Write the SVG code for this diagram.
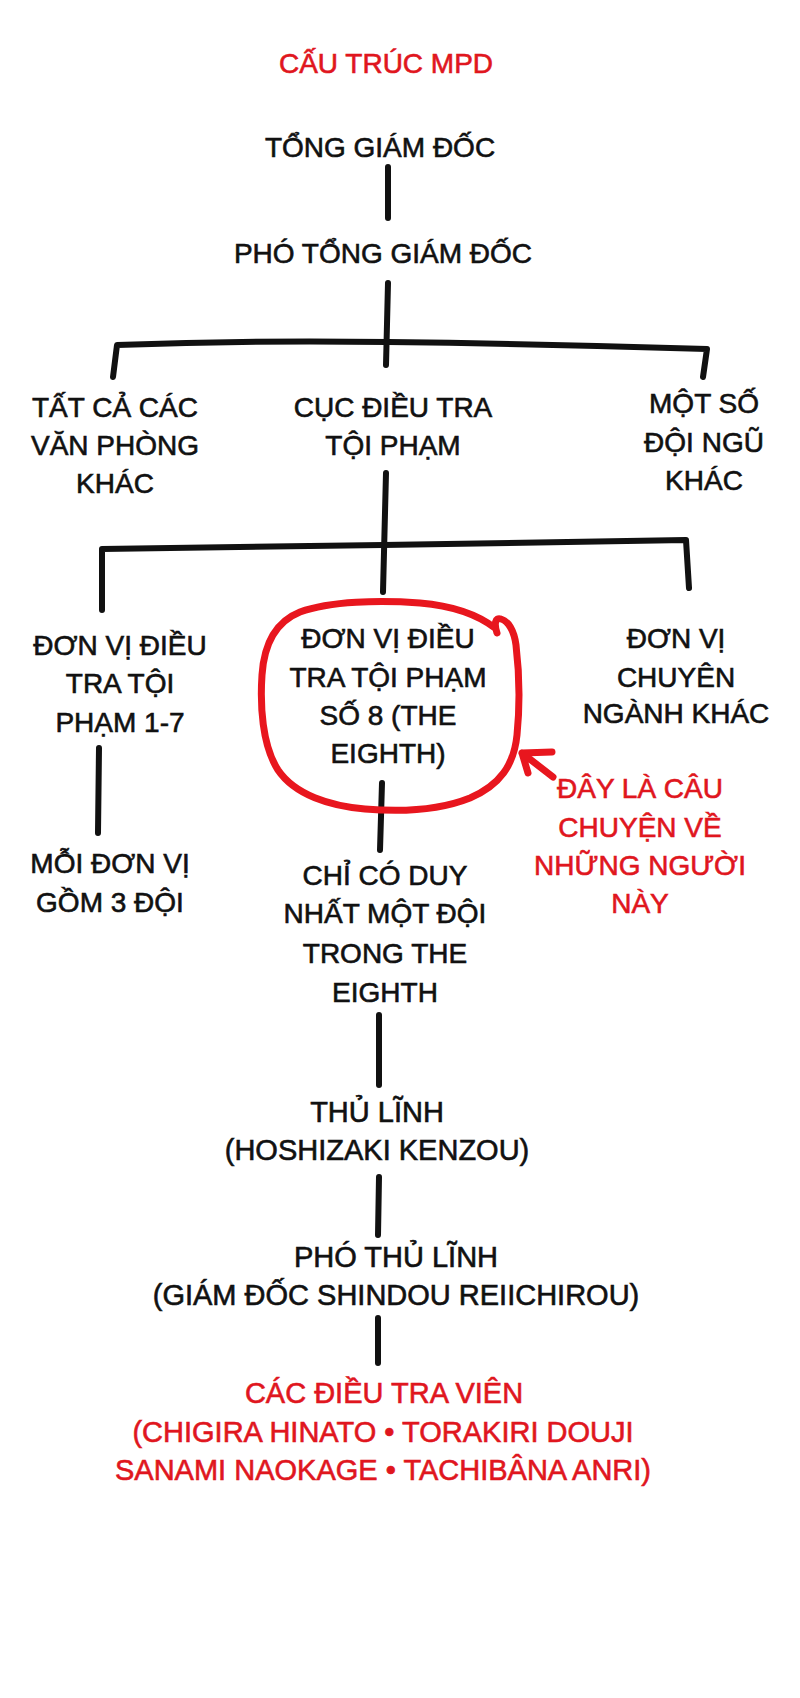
<svg xmlns="http://www.w3.org/2000/svg" width="800" height="1698" viewBox="0 0 800 1698">
<style>
text{font-family:"Liberation Sans","DejaVu Sans",sans-serif;font-size:28px;text-anchor:middle;fill:#111;stroke:#111;stroke-width:0.6px}
.red{fill:#e0161e;stroke:#e0161e}
.big{font-size:29px}
.ln{fill:none;stroke:#111;stroke-width:6;stroke-linecap:round;stroke-linejoin:round}
.rl{fill:none;stroke:#e8161e;stroke-width:7;stroke-linecap:round;stroke-linejoin:round}
</style>
<rect width="800" height="1698" fill="#fff"/>
<g id="connectors">
<path class="ln" d="M388,167 L388,218"/>
<path class="ln" d="M388,283 L386,365"/>
<path class="ln" d="M113,377 L117,345 Q250,340 388,342 Q550,344 707,349 L703,377"/>
<path class="ln" d="M386,473 L383,592"/>
<path class="ln" d="M102,610 L102,549 L383,545 L686,540 L689,588"/>
<path class="ln" d="M99,748 L98,833"/>
<path class="ln" d="M382,783 L380,850"/>
<path class="ln" d="M379,1015 L379,1085"/>
<path class="ln" d="M379,1177 L378,1235"/>
<path class="ln" d="M378,1318 L378,1363"/>
</g>
<g id="title"><text class="red" x="386" y="73">CẤU TRÚC MPD</text></g>
<g id="n-tong-giam-doc"><text x="380" y="157">TỔNG GIÁM ĐỐC</text></g>
<g id="n-pho-tong-giam-doc"><text x="383" y="263">PHÓ TỔNG GIÁM ĐỐC</text></g>
<g id="n-van-phong"><text x="115" y="417">TẤT CẢ CÁC</text><text x="115" y="455">VĂN PHÒNG</text><text x="115" y="493">KHÁC</text></g>
<g id="n-cuc-dieu-tra"><text x="393" y="417">CỤC ĐIỀU TRA</text><text x="393" y="455">TỘI PHẠM</text></g>
<g id="n-doi-ngu"><text x="704" y="413">MỘT SỐ</text><text x="704" y="452">ĐỘI NGŨ</text><text x="704" y="490">KHÁC</text></g>
<g id="n-don-vi-1-7"><text x="120" y="655">ĐƠN VỊ ĐIỀU</text><text x="120" y="693">TRA TỘI</text><text x="120" y="732">PHẠM 1-7</text></g>
<g id="n-eighth">
<path class="rl" d="M497,633 C494,624 495,617 501,619 C508,621 514,630 516,645 C519,670 520,705 517,735 C514,765 500,785 470,798 C440,810 400,812 365,809 C330,806 295,795 278,770 C262,745 260,705 262,675 C264,645 275,622 300,612 C330,601 380,600 420,603 C455,606 478,615 495,628"/>
<text x="388" y="648">ĐƠN VỊ ĐIỀU</text><text x="388" y="687">TRA TỘI PHẠM</text><text x="388" y="725">SỐ 8 (THE</text><text x="388" y="763">EIGHTH)</text>
</g>
<g id="n-chuyen-nganh"><text x="676" y="648">ĐƠN VỊ</text><text x="676" y="687">CHUYÊN</text><text x="676" y="723">NGÀNH KHÁC</text></g>
<g id="note">
<path class="rl" d="M553,777 L522,753 M552,752 L522,753 L528,773"/>
<text class="red" x="640" y="798">ĐÂY LÀ CÂU</text><text class="red" x="640" y="837">CHUYỆN VỀ</text><text class="red" x="640" y="875">NHỮNG NGƯỜI</text><text class="red" x="640" y="913">NÀY</text>
</g>
<g id="n-moi-don-vi"><text x="110" y="873">MỖI ĐƠN VỊ</text><text x="110" y="912">GỒM 3 ĐỘI</text></g>
<g id="n-chi-co"><text x="385" y="885">CHỈ CÓ DUY</text><text x="385" y="923">NHẤT MỘT ĐỘI</text><text x="385" y="963">TRONG THE</text><text x="385" y="1002">EIGHTH</text></g>
<g id="n-thu-linh"><text class="big" x="377" y="1122">THỦ LĨNH</text><text class="big" x="377" y="1160">(HOSHIZAKI KENZOU)</text></g>
<g id="n-pho-thu-linh"><text class="big" x="396" y="1267">PHÓ THỦ LĨNH</text><text class="big" x="396" y="1305">(GIÁM ĐỐC SHINDOU REIICHIROU)</text></g>
<g id="n-dieu-tra-vien"><text class="red big" x="384" y="1403">CÁC ĐIỀU TRA VIÊN</text><text class="red big" x="383" y="1442">(CHIGIRA HINATO • TORAKIRI DOUJI</text><text class="red big" x="383" y="1480">SANAMI NAOKAGE • TACHIBÂNA ANRI)</text></g>
</svg>
